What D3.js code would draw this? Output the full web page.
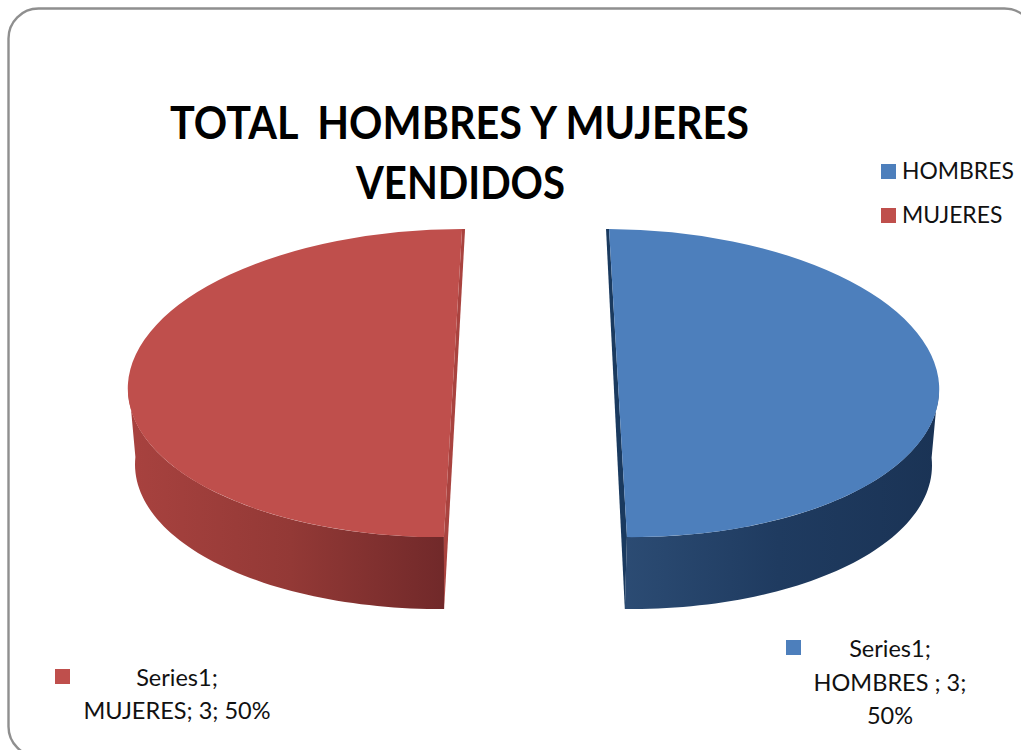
<!DOCTYPE html>
<html>
<head>
<meta charset="utf-8">
<script src="https://cdnjs.cloudflare.com/ajax/libs/d3/7.8.5/d3.min.js"></script>
<style>
html,body{margin:0;padding:0;background:#fff;overflow:hidden}
svg{display:block}
text{font-family:Lato,"Open Sans",sans-serif;fill:#111}
</style>
</head>
<body>
<svg id="chart" width="1021" height="750"></svg>
<script>
const categories = ["HOMBRES", "MUJERES"];
const values = [3, 3];
const percents = ["50%", "50%"];
const seriesName = "Series1";
const titleLines = ["TOTAL  HOMBRES Y MUJERES", "VENDIDOS"];
const faceColors = ["#4d7fbc", "#bf4f4c"];
const sideStops = [["#2c4c74", "#1f3b60", "#1a3355"], ["#a8423f", "#933936", "#6f2829"]];
const wedgeColors = ["#1a3a5f", "#a9433f"];

const svg = d3.select("#chart");
const defs = svg.append("defs");
const deg = Math.PI / 180;

// frame
svg.append("rect").attr("x", 8.5).attr("y", 8.5).attr("width", 1026).attr("height", 748)
  .attr("rx", 30).attr("ry", 30).attr("fill", "#fff").attr("stroke", "#8f8f8f").attr("stroke-width", 2.4);

// layout per slice; turn = the perspective's rotation of each exploded slice
const layout = [
  {cx: 618, cy: 383, rx: 321, ry: 154, bx: 616, by: 459, brx: 316, bry: 150, skew: 0.02, turn: 0, side: 2},
  {cx: 453, cy: 383, rx: 325, ry: 154, bx: 453, by: 459, brx: 318, bry: 150, skew: -0.017, turn: 3.2 * deg, side: -2}
];

const pie = d3.pie().sort(null).startAngle(-1.6 * deg).endAngle(358.4 * deg);
const arcs = pie(values).map((a, i) => ({
  ...a,
  startAngle: a.startAngle + layout[i].turn,
  endAngle: a.endAngle + layout[i].turn
}));
const R = 100;
const arc = d3.arc().innerRadius(0).outerRadius(R);
const line = d3.line();

arcs.forEach((a, i) => {
  const L = layout[i];
  const gid = "side" + i;
  const grad = defs.append("linearGradient").attr("id", gid).attr("gradientUnits", "userSpaceOnUse")
    .attr("x1", i === 0 ? L.cx : L.cx - L.rx).attr("x2", i === 0 ? L.cx + L.rx : L.cx).attr("y1", 0).attr("y2", 0);
  const stops = sideStops[i];
  stops.forEach((c, k) => grad.append("stop").attr("offset", k / (stops.length - 1)).attr("stop-color", c));

  // visible rim, sampled from the slice's own angles
  const lo = i === 0 ? Math.PI / 2 - 0.05 : a.startAngle;
  const hi = i === 0 ? a.endAngle : Math.PI * 1.5 + 0.05;
  const angles = d3.range(0, 61).map(k => lo + (hi - lo) * k / 60);
  const rim = (cx, cy, rx, ry) => angles.map(t => {
    const x = rx * Math.sin(t), y = -ry * Math.cos(t);
    return [cx + x, cy + y + x * L.skew];
  });
  const top = rim(L.cx, L.cy, L.rx, L.ry);
  const bot = rim(L.bx, L.by, L.brx, L.bry);
  svg.append("path").attr("d", line(top.concat(bot.slice().reverse())) + "Z")
    .attr("fill", `url(#${gid})`);

  // thin cut wall beside the gap
  const backAngle = i === 0 ? a.startAngle : a.endAngle;
  const frontAngle = i === 0 ? a.endAngle : a.startAngle;
  const edgeTop = [L.cx + L.rx * Math.sin(backAngle), L.cy - L.ry];
  const faceEnd = [L.cx + L.rx * Math.sin(frontAngle), L.cy + L.ry];
  const botEnd = [L.bx + L.brx * Math.sin(frontAngle), L.by + L.bry];
  const outer = [edgeTop[0] - L.side * 1.5, edgeTop[1]];
  svg.append("path").attr("d", line([edgeTop, outer, botEnd, faceEnd]) + "Z").attr("fill", wedgeColors[i]);

  // top face
  svg.append("path").attr("d", arc(a))
    .attr("transform", `matrix(${L.rx / R},${L.rx / R * L.skew},0,${L.ry / R},${L.cx},${L.cy})`)
    .attr("fill", faceColors[i]);
});

// title
const titleWidths = [579, 209];
svg.append("g").selectAll("text").data(titleLines).join("text")
  .attr("x", (d, i) => 459.5 + (i ? 1 : 0)).attr("y", (d, i) => 139 + i * 60)
  .attr("text-anchor", "middle").attr("font-size", 45).attr("font-weight", 700)
  .attr("textLength", (d, i) => titleWidths[i]).attr("lengthAdjust", "spacingAndGlyphs")
  .style("white-space", "pre").style("fill", "#000").text(d => d);

// legend
categories.forEach((c, i) => {
  svg.append("rect").attr("x", 881).attr("y", 164 + i * 44).attr("width", 15).attr("height", 15).attr("fill", faceColors[i]);
  svg.append("text").attr("x", 902).attr("y", 179 + i * 44).attr("font-size", 22.9).text(c);
});

// data labels
const labelDefs = [
  {cat: 0, keyX: 786, keyY: 640, cx: 890, lines: [seriesName + ";", categories[0] + " ; " + values[0] + ";", percents[0]], y0: 657, dy: 33.5},
  {cat: 1, keyX: 55, keyY: 669, cx: 177, lines: [seriesName + ";", categories[1] + "; " + values[1] + "; " + percents[1]], y0: 686, dy: 33}
];
labelDefs.forEach(l => {
  svg.append("rect").attr("x", l.keyX).attr("y", l.keyY).attr("width", 15).attr("height", 15).attr("fill", faceColors[l.cat]);
  l.lines.forEach((t, k) => {
    svg.append("text").attr("x", l.cx).attr("y", l.y0 + k * l.dy).attr("text-anchor", "middle").attr("font-size", 23.5).text(t);
  });
});
</script>
</body>
</html>
